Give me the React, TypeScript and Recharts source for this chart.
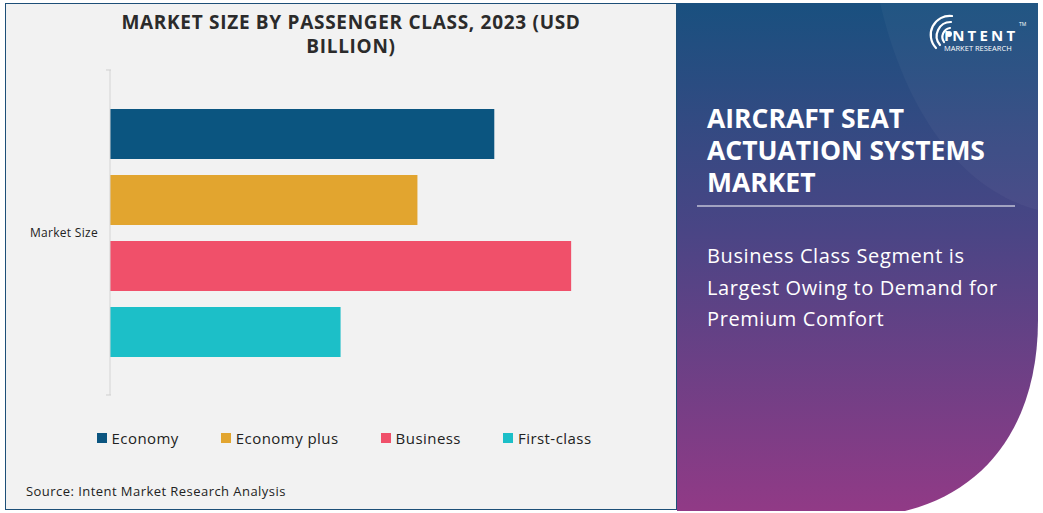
import { BarChart, Bar, XAxis, YAxis, Legend } from "recharts";

const categories = ["Market Size"];
const seriesNames = ["Economy", "Economy plus", "Business", "First-class"];
const economy = [0.5];
const economyPlus = [0.4];
const business = [0.6];
const firstClass = [0.3];
const colors = ["#0b5580", "#e2a52f", "#f0506a", "#1cbfc8"];

const data = categories.map((c, i) => ({
  name: c,
  [seriesNames[0]]: economy[i],
  [seriesNames[1]]: economyPlus[i],
  [seriesNames[2]]: business[i],
  [seriesNames[3]]: firstClass[i],
}));

const FONT = "'Open Sans', 'Noto Sans', sans-serif";

const YTick = (props: any) => {
  const { x, y, payload } = props;
  const off = payload.offset || 0;
  return (
    <g>
      <text x={x - 4} y={y} dy={4} textAnchor="end" fontSize={12} letterSpacing={0.3} fill="#222" fontFamily={FONT}>
        {payload.value}
      </text>
      <line x1={x + 4} x2={x + 9} y1={y - off} y2={y - off} stroke="#cfcfcf" />
      <line x1={x + 4} x2={x + 9} y1={y + off} y2={y + off} stroke="#cfcfcf" />
    </g>
  );
};

const LegendContent = (props: any) => {
  const items = [...(props.payload || [])].sort(
    (a: any, b: any) => seriesNames.indexOf(a.value) - seriesNames.indexOf(b.value)
  );
  return (
    <div style={{ display: "flex", justifyContent: "center", gap: 42, paddingLeft: 12, fontFamily: FONT }}>
      {items.map((p: any) => (
        <div key={p.value} style={{ display: "flex", alignItems: "center", fontSize: 15, letterSpacing: 0.45, color: "#222" }}>
          <span style={{ width: 10, height: 10, background: p.color, display: "inline-block", marginRight: 5 }} />
          {p.value}
        </div>
      ))}
    </div>
  );
};

export default function App() {
  return (
    <div style={{ position: "absolute", left: 0, top: 0, width: 1043, height: 513, background: "#fff", overflow: "hidden", fontFamily: FONT }}>
      <div style={{ position: "absolute", left: 5, top: 3, width: 672, height: 507, background: "#f2f2f2", border: "1.5px solid #1d4f78", boxSizing: "border-box" }} />
      <div style={{ position: "absolute", left: 0, top: 10, width: 702, textAlign: "center", fontSize: 19, letterSpacing: 0.7, fontWeight: 700, color: "#2b2b2b", lineHeight: "24px" }}>
        MARKET SIZE BY PASSENGER CLASS, 2023 (USD<br />BILLION)
      </div>
      <div style={{ position: "absolute", left: 0, top: 0 }}>
        <BarChart
          width={676}
          height={460}
          data={data}
          layout="vertical"
          margin={{ top: 70, right: 28, left: 0, bottom: 45 }}
          barGap={16}
          barSize={50}
        >
          <XAxis type="number" domain={[0, 0.7]} hide />
          <YAxis
            type="category"
            dataKey="name"
            width={110}
            axisLine={{ stroke: "#d4d4d4" }}
            tickLine={false}
            tick={<YTick />}
          />
          <Legend
            verticalAlign="bottom"
            content={<LegendContent />}
            wrapperStyle={{ top: 428, left: 0, width: 676 }}
          />
          {seriesNames.map((s, i) => (
            <Bar key={s} dataKey={s} fill={colors[i]} isAnimationActive={false} />
          ))}
        </BarChart>
      </div>
      <div style={{ position: "absolute", left: 26, top: 482, fontSize: 13, letterSpacing: 0.45, color: "#222" }}>
        Source: Intent Market Research Analysis
      </div>

      <svg width={1043} height={513} style={{ position: "absolute", left: 0, top: 0 }}>
        <defs>
          <linearGradient id="rg" x1="0" y1="0" x2="0" y2="1">
            <stop offset="0%" stopColor="#19507f" />
            <stop offset="45%" stopColor="#4a4585" />
            <stop offset="100%" stopColor="#913a86" />
          </linearGradient>
        </defs>
        <path d="M677,3 H1038 V320 C1038,420 990,490 905,511 H677 Z" fill="url(#rg)" />
        <path d="M880,3 C905,110 960,190 1038,210 V3 Z" fill="#ffffff" opacity={0.035} />
        <line x1={697} x2={1015} y1={206} y2={206} stroke="#ffffff" strokeWidth={1} />
        <g fill="none" stroke="#ffffff" strokeWidth={2.2} strokeLinecap="round">
          <path d="M944,42 A9,9 0 0 1 950,28" />
          <path d="M940,45 A14,14 0 0 1 951,22" />
          <path d="M936,48 A19,19 0 0 1 952,16" />
        </g>
        <circle cx={949} cy={34} r={3} fill="#ffffff" />
        <text x={1019} y={26} fontSize={5} fill="#ffffff" fontFamily={FONT}>TM</text>
      </svg>

      <div style={{ position: "absolute", left: 944, top: 28, color: "#fff", width: 75 }}>
        <div style={{ fontSize: 15, fontWeight: 700, letterSpacing: 3.2, lineHeight: "15px" }}>INTENT</div>
        <div style={{ fontSize: 7.5, lineHeight: "9px", marginTop: 1 }}>MARKET RESEARCH</div>
      </div>

      <div style={{ position: "absolute", left: 707, top: 102, color: "#fff", fontSize: 26.5, fontWeight: 700, lineHeight: "32px" }}>
        AIRCRAFT SEAT<br />ACTUATION SYSTEMS<br />MARKET
      </div>
      <div style={{ position: "absolute", left: 707, top: 240, color: "#fff", fontSize: 20, letterSpacing: 0.6, lineHeight: "31.5px" }}>
        Business Class Segment is<br />Largest Owing to Demand for<br />Premium Comfort
      </div>
    </div>
  );
}
